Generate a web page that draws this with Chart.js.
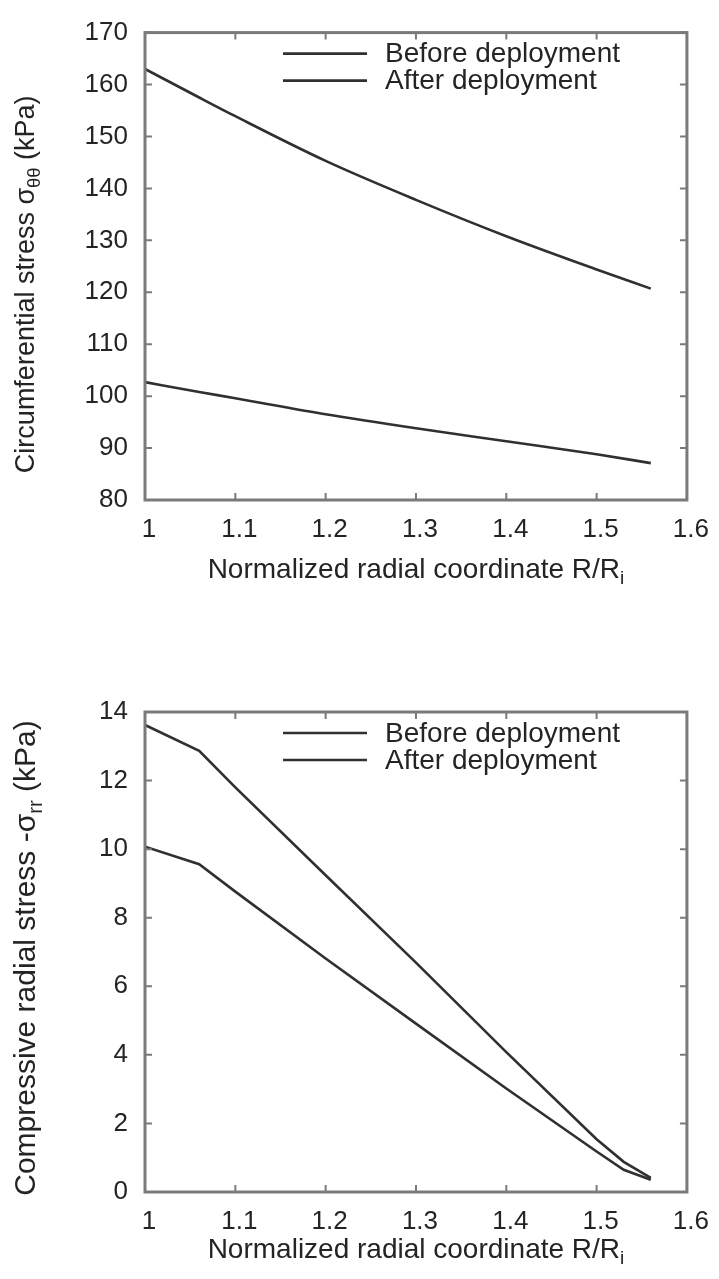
<!DOCTYPE html>
<html lang="en">
<head>
<meta charset="UTF-8">
<title>Stress vs normalized radial coordinate</title>
<script src="https://cdn.jsdelivr.net/npm/chart.js"></script>
<style>
  body { margin: 0; background: #fff; }
  canvas { display: block; }
</style>
</head>
<body>
<canvas id="hoopChart" width="719" height="640"></canvas>
<canvas id="radialChart" width="719" height="639"></canvas>

<script>
const xTicks = [1, 1.1, 1.2, 1.3, 1.4, 1.5, 1.6];
const seriesNames = ["Before deployment", "After deployment"];

// circumferential stress, kPa
const hoopR = [1, 1.06, 1.1, 1.2, 1.3, 1.4, 1.5, 1.56];
const hoopBefore = [163.0, 157.5, 153.9, 145.3, 137.8, 130.8, 124.4, 120.7];
const hoopAfter = [102.7, 100.8, 99.6, 96.5, 93.8, 91.3, 88.8, 87.1];
const hoopYTicks = [80, 90, 100, 110, 120, 130, 140, 150, 160, 170];

// compressive radial stress, kPa
const radR = [1, 1.06, 1.1, 1.2, 1.3, 1.4, 1.5, 1.53, 1.56];
const radBefore = [13.62, 12.87, 11.8, 9.24, 6.69, 4.08, 1.54, 0.88, 0.41];
const radAfter = [10.07, 9.56, 8.76, 6.81, 4.91, 3.02, 1.18, 0.65, 0.36];
const radYTicks = [0, 2, 4, 6, 8, 10, 12, 14];

const FONT = "'Liberation Sans', Arial, Helvetica, sans-serif";
const INK = "#242424";
const LINE = "#303030";

// draws text pieces, some as subscripts, starting at x
function richText(ctx, parts, x, y, size) {
  let cx = x;
  parts.forEach(p => {
    const fs = p.sub ? size * 0.68 : size;
    ctx.font = fs + "px " + FONT;
    ctx.fillText(p.t, cx, y + (p.sub ? size * 0.3 : 0));
    cx += ctx.measureText(p.t).width;
  });
}
function richWidth(ctx, parts, size) {
  let w = 0;
  parts.forEach(p => {
    ctx.font = (p.sub ? size * 0.68 : size) + "px " + FONT;
    w += ctx.measureText(p.t).width;
  });
  return w;
}

const framePlugin = {
  id: "frame",
  afterDraw(chart, args, opts) {
    const { ctx, chartArea: a, scales: { x, y } } = chart;
    ctx.save();
    ctx.strokeStyle = "#7a7a7a";
    ctx.lineWidth = 3;
    ctx.strokeRect(a.left, a.top, a.right - a.left, a.bottom - a.top);

    // inward ticks on all four sides
    ctx.lineWidth = 2;
    ctx.beginPath();
    x.ticks.forEach(t => {
      const px = x.getPixelForValue(t.value);
      ctx.moveTo(px, a.bottom); ctx.lineTo(px, a.bottom - 7);
      ctx.moveTo(px, a.top); ctx.lineTo(px, a.top + 7);
    });
    y.ticks.forEach(t => {
      const py = y.getPixelForValue(t.value);
      ctx.moveTo(a.left, py); ctx.lineTo(a.left + 7, py);
      ctx.moveTo(a.right, py); ctx.lineTo(a.right - 7, py);
    });
    ctx.stroke();

    // legend inside the frame
    ctx.fillStyle = INK;
    ctx.textBaseline = "middle";
    ctx.textAlign = "left";
    ctx.font = "28px " + FONT;
    chart.data.datasets.forEach((ds, i) => {
      const ly = a.top + 21 + i * 27;
      ctx.strokeStyle = LINE;
      ctx.lineWidth = 2.6;
      ctx.beginPath();
      ctx.moveTo(a.left + 138, ly);
      ctx.lineTo(a.left + 222, ly);
      ctx.stroke();
      ctx.fillText(ds.label, a.left + 240, ly + 1);
    });

    // x title
    const xParts = [{ t: "Normalized radial coordinate R/R" }, { t: "i", sub: true }];
    const xw = richWidth(ctx, xParts, 28);
    richText(ctx, xParts, (a.left + a.right) / 2 - xw / 2, a.bottom + opts.xTitleGap, 28);

    // y title, rotated
    const yw = richWidth(ctx, opts.yTitle, opts.ySize);
    ctx.translate(27, (a.top + a.bottom) / 2 + opts.yTitleShift);
    ctx.rotate(-Math.PI / 2);
    richText(ctx, opts.yTitle, -yw / 2, 0, opts.ySize);
    ctx.restore();
  }
};

function makeChart(id, xs, before, after, yTicks, plugOpts) {
  const toPts = vals => vals.map((v, i) => ({ x: xs[i], y: v }));
  return new Chart(document.getElementById(id), {
    type: "line",
    data: {
      datasets: [
        { label: seriesNames[0], data: toPts(before) },
        { label: seriesNames[1], data: toPts(after) }
      ]
    },
    options: {
      responsive: false,
      animation: false,
      layout: { padding: { left: 0, right: 29, top: plugOpts.top, bottom: 0 } },
      elements: {
        line: {
          borderColor: LINE, borderWidth: 2.6, fill: false, tension: 0,
          cubicInterpolationMode: plugOpts.smooth ? "monotone" : "default"
        },
        point: { radius: 0 }
      },
      plugins: {
        legend: { display: false },
        tooltip: { enabled: false },
        frame: plugOpts
      },
      scales: {
        x: {
          type: "linear",
          min: 1, max: 1.6,
          afterBuildTicks: s => { s.ticks = xTicks.map(v => ({ value: v })); },
          afterFit: s => { s.height = plugOpts.xAxisHeight; },
          grid: { display: false, drawTicks: false },
          border: { display: false },
          ticks: {
            padding: 14, color: INK, maxRotation: 0, labelOffset: 4,
            font: { family: FONT, size: 26 },
            callback: v => String(v)
          }
        },
        y: {
          min: yTicks[0], max: yTicks[yTicks.length - 1],
          afterBuildTicks: s => { s.ticks = yTicks.map(v => ({ value: v })); },
          afterFit: s => { s.width = 145; },
          grid: { display: false, drawTicks: false },
          border: { display: false },
          ticks: {
            padding: 17, color: INK,
            font: { family: FONT, size: 26 },
            callback: v => String(v)
          }
        }
      }
    },
    plugins: [framePlugin]
  });
}

makeChart("hoopChart", hoopR, hoopBefore, hoopAfter, hoopYTicks, {
  top: 20, xAxisHeight: 140, xTitleGap: 70, yTitleShift: 18, ySize: 27, smooth: true,
  yTitle: [{ t: "Circumferential stress \u03c3" }, { t: "\u03b8\u03b8", sub: true }, { t: " (kPa)" }]
});

makeChart("radialChart", radR, radBefore, radAfter, radYTicks, {
  top: 72, xAxisHeight: 87, xTitleGap: 58, yTitleShift: 6, ySize: 30, smooth: false,
  yTitle: [{ t: "Compressive radial stress -\u03c3" }, { t: "rr", sub: true }, { t: " (kPa)" }]
});
</script>
</body>
</html>
